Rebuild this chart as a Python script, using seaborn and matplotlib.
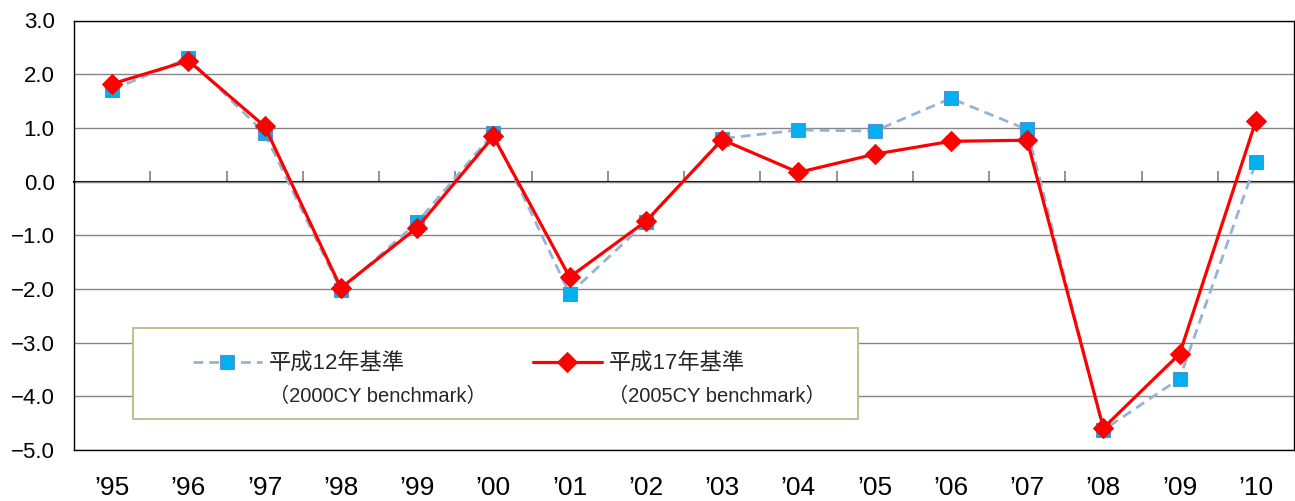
import numpy as np
import pandas as pd
import matplotlib
matplotlib.use("Agg")
import matplotlib.pyplot as plt
from matplotlib.patches import Rectangle
from matplotlib.lines import Line2D
from matplotlib.ticker import FuncFormatter
import seaborn as sns

years = ["’95", "’96", "’97", "’98", "’99", "’00", "’01", "’02",
         "’03", "’04", "’05", "’06", "’07", "’08", "’09", "’10"]
bench_2000 = [1.71, 2.30, 0.90, -2.02, -0.76, 0.90, -2.09, -0.76,
              0.80, 0.96, 0.94, 1.55, 0.97, -4.63, -3.67, 0.36]
bench_2005 = [1.82, 2.25, 1.03, -1.98, -0.86, 0.84, -1.78, -0.74,
              0.78, 0.17, 0.51, 0.75, 0.77, -4.59, -3.21, 1.13]
labels_top = ["平成12年基準", "平成17年基準"]
labels_sub = ["（2000CY benchmark）", "（2005CY benchmark）"]

def build_frame():
    return pd.DataFrame({"year": years, "b2000": bench_2000, "b2005": bench_2005})

def fmt_y(v, pos):
    return f"{v:.1f}".replace("-", "\u2212")

def main():
    sns.set_theme(style="white")
    fonts = ["Liberation Sans", "Noto Sans CJK JP", "DejaVu Sans"]
    plt.rcParams["font.family"] = fonts

    df = build_frame()
    fig = plt.figure(figsize=(12.95, 5.01), dpi=100)
    ax = fig.add_axes([74 / 1295, 51 / 501, 1220 / 1295, 429.5 / 501])

    sns.lineplot(data=df, x="year", y="b2000", sort=False, ax=ax,
                 color="#95b3d7", linewidth=2.0, linestyle=(0, (3.5, 2.2)),
                 marker="s", markersize=9.5, markerfacecolor="#00b0f0",
                 markeredgecolor="#5b8fd0", markeredgewidth=0.8, zorder=4)
    sns.lineplot(data=df, x="year", y="b2005", sort=False, ax=ax,
                 color="#ff0000", linewidth=2.3, linestyle="-",
                 marker="D", markersize=10, markerfacecolor="#ff0000",
                 markeredgecolor="#ff0000", zorder=5)

    ax.set_xlim(-0.5, len(years) - 0.5)
    ax.set_ylim(-5, 3)
    ax.set_yticks(np.arange(-5, 3.5, 1))
    ax.yaxis.set_major_formatter(FuncFormatter(fmt_y))
    ax.set_xlabel("")
    ax.set_ylabel("")
    ax.yaxis.grid(True, color="#868686", linewidth=1.0)
    ax.xaxis.grid(False)
    ax.set_axisbelow(True)
    ax.tick_params(axis="y", length=0, pad=14, labelsize=16, labelcolor="black")
    ax.tick_params(axis="x", length=0, pad=19, labelsize=19, labelcolor="black")
    for sp in ax.spines.values():
        sp.set_color("black")
        sp.set_linewidth(1.0)

    # axis line at zero with tick marks between categories
    sec = ax.secondary_xaxis(5 / 8)
    sec.set_xticks(np.arange(0.5, len(years) - 1, 1))
    sec.tick_params(direction="out", length=8, color="#808080", width=1.2,
                    labelbottom=False, labeltop=False)
    for sp in sec.spines.values():
        sp.set_color("black")
        sp.set_linewidth(1.5)

    # legend box
    box = Rectangle((0.0484, 0.0722), 0.5942, 0.2118, transform=ax.transAxes,
                    facecolor="white", edgecolor="#c4bd97", linewidth=1.5,
                    zorder=6)
    ax.add_patch(box)

    lines = ax.get_lines()
    blank = Line2D([], [], linestyle="none", marker=None)
    handles = [lines[0], blank, lines[1], blank]
    texts = [labels_top[0], labels_sub[0], labels_top[1], labels_sub[1]]
    leg = ax.legend(handles, texts, ncol=2, loc="center left",
                    bbox_to_anchor=((193 - 74) / 1220, (450 - 379.5) / 429.5),
                    frameon=False, fontsize=16, handlelength=3.1,
                    handletextpad=0.3, columnspacing=2.1, labelspacing=0.52,
                    borderpad=0, borderaxespad=0)
    leg.set_zorder(7)
    for t in leg.get_texts():
        if t.get_text().startswith("（"):
            t.set_fontsize(14.5)

    fig.savefig("out.png", dpi=100)
    plt.close(fig)

if __name__ == "__main__":
    main()
